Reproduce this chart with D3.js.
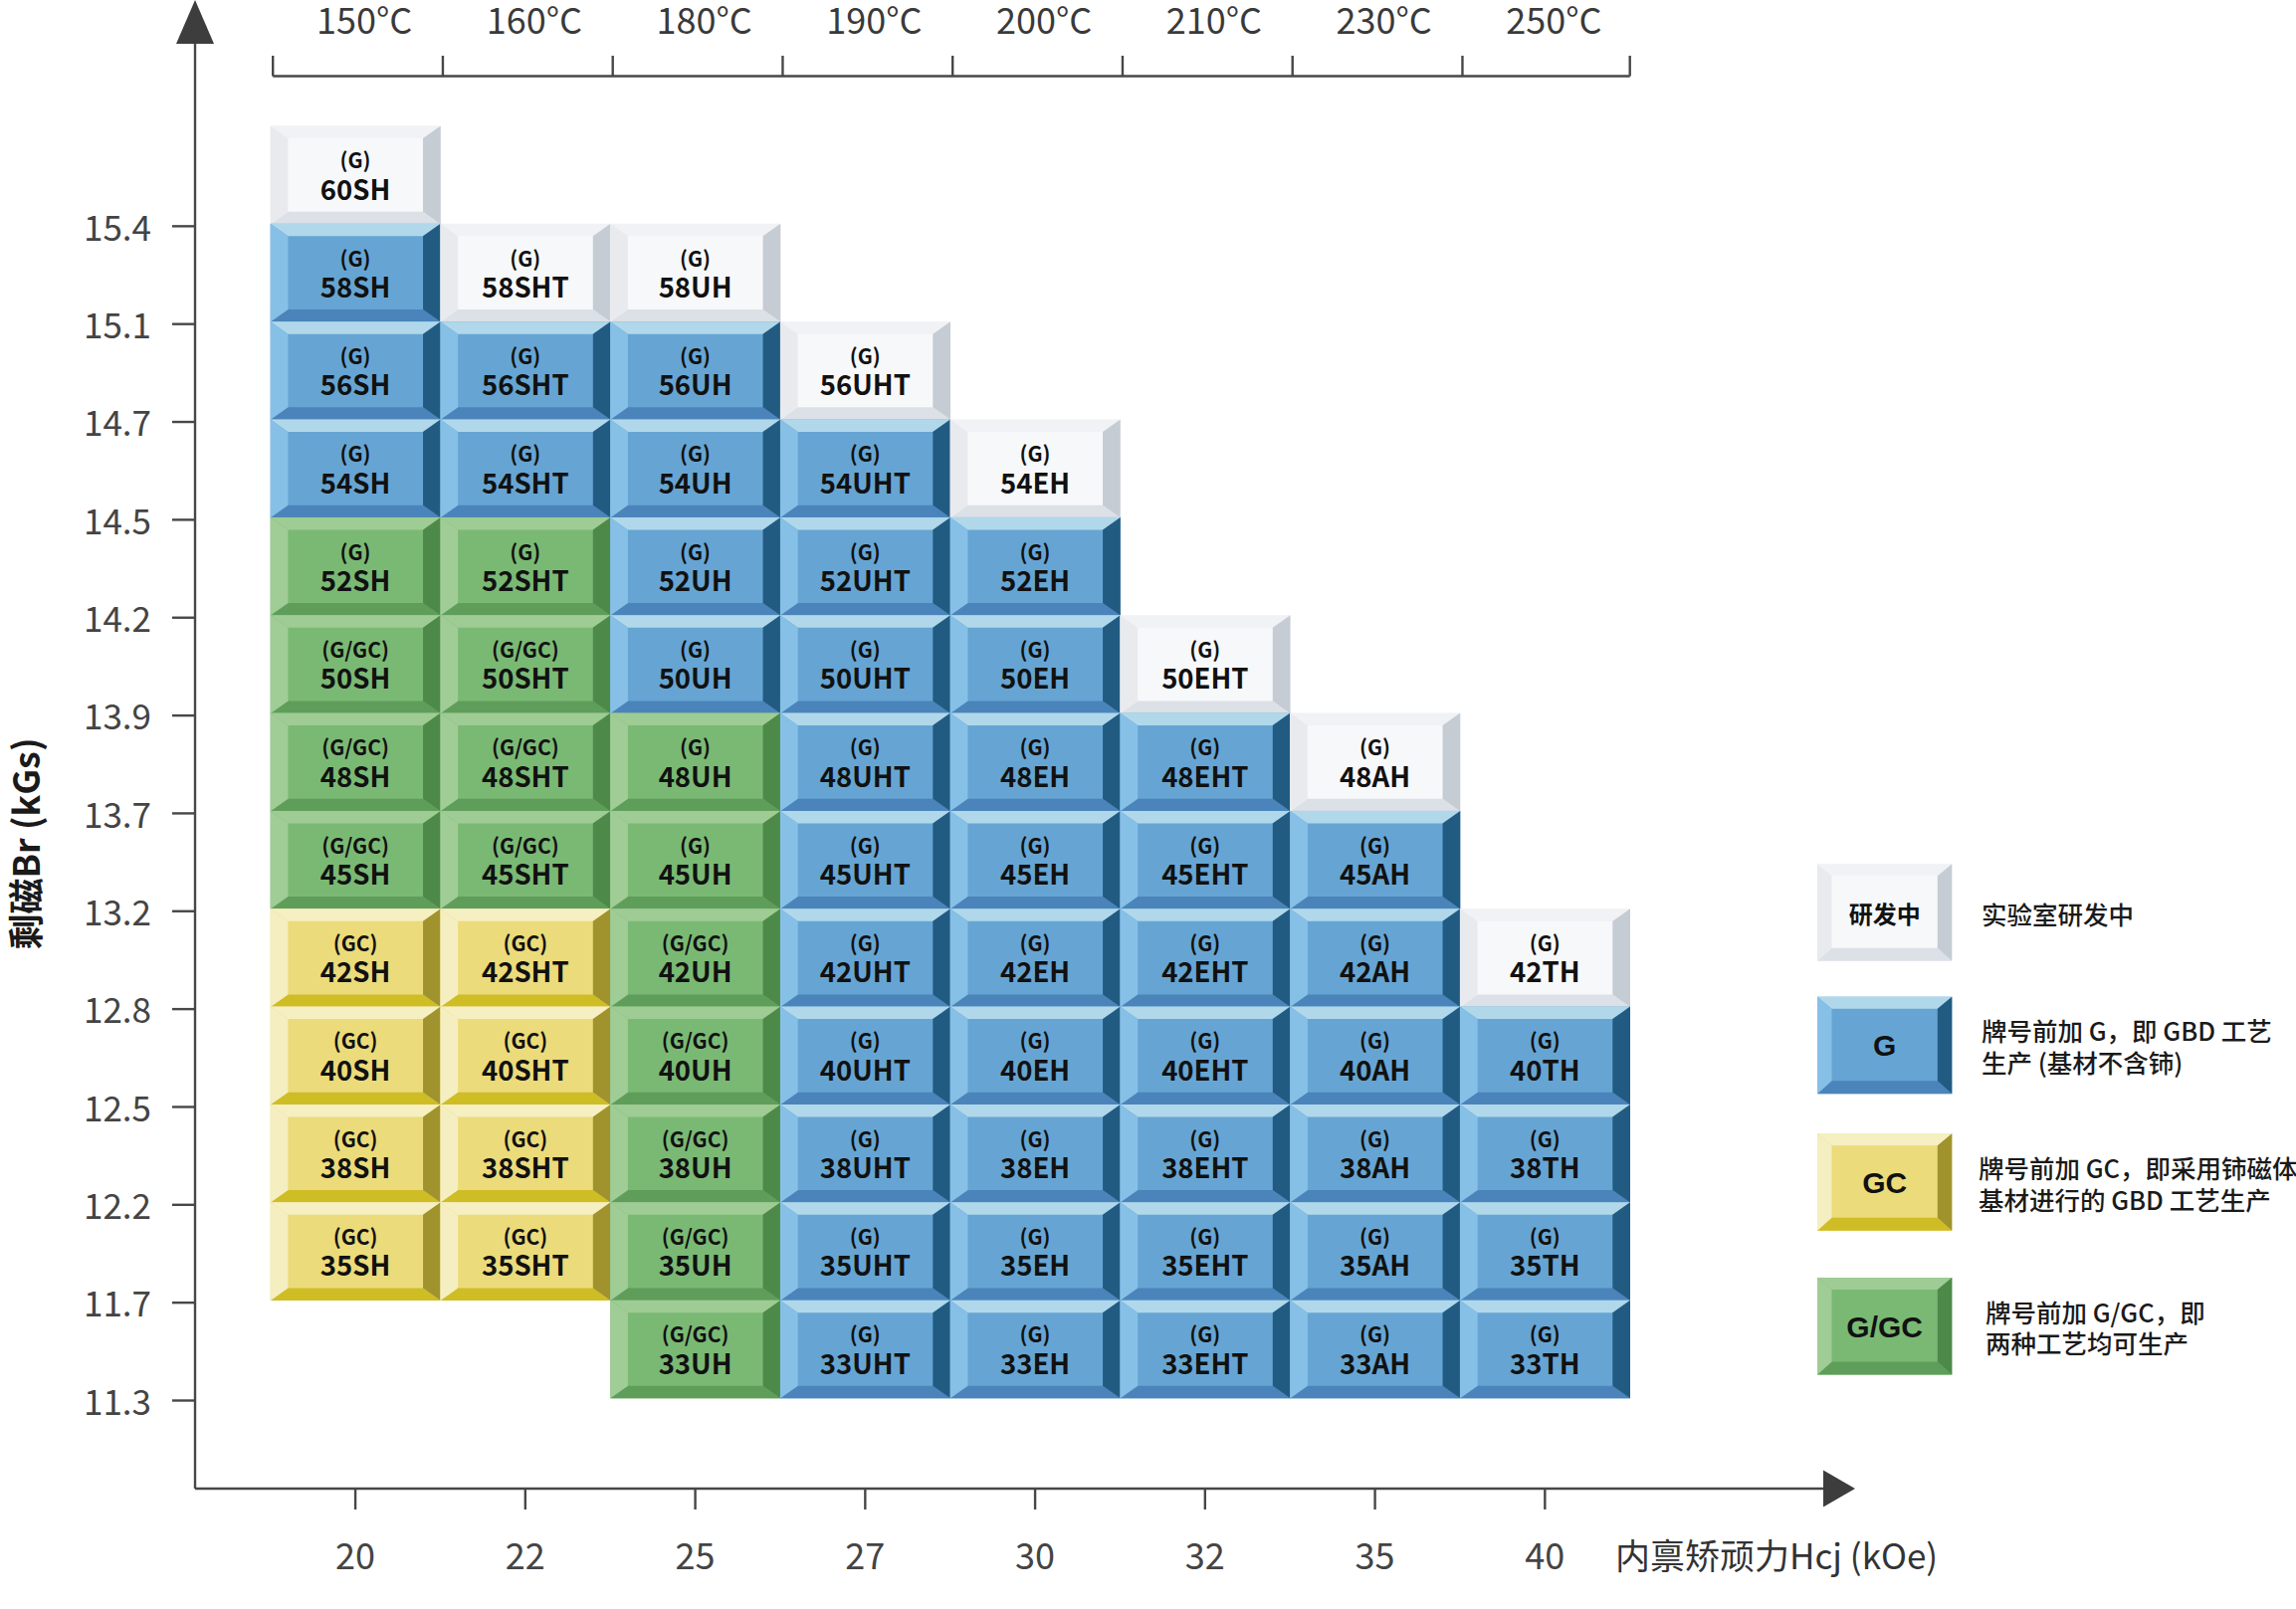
<!DOCTYPE html>
<html><head><meta charset="utf-8">
<script src="https://cdn.jsdelivr.net/npm/d3@7/dist/d3.min.js"></script>
<style>
html,body{margin:0;padding:0;background:#fff;}
svg{display:block;}
</style></head>
<body>
<svg id="chart" width="2307" height="1617"></svg>
<script>
// ---------- data ----------
const grades = ["60","58","56","54","52","50","48","45","42","40","38","35","33"];
const series = ["SH","SHT","UH","UHT","EH","EHT","AH","TH"];
const tempLabels = ["150°C","160°C","180°C","190°C","200°C","210°C","230°C","250°C"];
const hcjLabels = ["20","22","25","27","30","32","35","40"];
const brLabels = ["15.4","15.1","14.7","14.5","14.2","13.9","13.7","13.2","12.8","12.5","12.2","11.7","11.3"];
// process code per grade row: R = 研发中, G = GBD, g = GBD (green), B = G/GC, C = GC, "" = none
const procSH  = ["R","G","G","G","g","B","B","B","C","C","C","C",""];
const procSHT = ["", "R","G","G","g","B","B","B","C","C","C","C",""];
const procUH  = ["", "R","G","G","G","G","g","g","B","B","B","B","B"];
const procUHT = ["", "", "R","G","G","G","G","G","G","G","G","G","G"];
const procEH  = ["", "", "", "R","G","G","G","G","G","G","G","G","G"];
const procEHT = ["", "", "", "", "", "R","G","G","G","G","G","G","G"];
const procAH  = ["", "", "", "", "", "", "R","G","G","G","G","G","G"];
const procTH  = ["", "", "", "", "", "", "", "", "R","G","G","G","G"];
const procBySeries = [procSH,procSHT,procUH,procUHT,procEH,procEHT,procAH,procTH];
const prefixOf = {R:"(G)",G:"(G)",g:"(G)",B:"(G/GC)",C:"(GC)"};
const legendCodes = ["R","G","C","B"];
const legendBoxLabels = ["研发中","G","GC","G/GC"];
const legendTexts = [["实验室研发中"],["牌号前加 G，即 GBD 工艺","生产 (基材不含铈)"],["牌号前加 GC，即采用铈磁体","基材进行的 GBD 工艺生产"],["牌号前加 G/GC，即","两种工艺均可生产"]];

// ---------- styles ----------
const palette = {
  R:{face:"#f7f8fa",top:"#f1f2f5",left:"#e8eaee",right:"#c5ccd4",bottom:"#dce0e7"},
  G:{face:"#66a5d3",top:"#b0d8ea",left:"#87c0e7",right:"#225b82",bottom:"#4b84ba"},
  g:{face:"#7ab974",top:"#9fcb94",left:"#a0cc96",right:"#4d8a49",bottom:"#5f9e5a"},
  B:{face:"#7ab974",top:"#9fcb94",left:"#a0cc96",right:"#4d8a49",bottom:"#5f9e5a"},
  C:{face:"#ebdb7a",top:"#f5efc2",left:"#f4eec0",right:"#a0932e",bottom:"#cfbd26"}
};
const FONT = "'Noto Sans CJK SC','Noto Sans',sans-serif";
const AXIS = "#474747";

const svg = d3.select("#chart");

const x = d3.scaleBand().domain(series).range([271.7, 1637.7]).padding(0);
const y = d3.scaleBand().domain(grades).range([126.5, 1405]).padding(0);
const bw = x.bandwidth(), bh = y.bandwidth();

function bevel(g, x0, y0, w, h, c, s, t, b){
  const P = pts => pts.map(p=>p.join(",")).join(" ");
  g.append("rect").attr("x",x0).attr("y",y0).attr("width",w).attr("height",h).attr("fill",c.face);
  g.append("polygon").attr("points",P([[x0,y0],[x0+w,y0],[x0+w-s,y0+t],[x0+s,y0+t]])).attr("fill",c.top);
  g.append("polygon").attr("points",P([[x0,y0+h],[x0+w,y0+h],[x0+w-s,y0+h-b],[x0+s,y0+h-b]])).attr("fill",c.bottom);
  g.append("polygon").attr("points",P([[x0,y0],[x0+s,y0+t],[x0+s,y0+h-b],[x0,y0+h]])).attr("fill",c.left);
  g.append("polygon").attr("points",P([[x0+w,y0],[x0+w-s,y0+t],[x0+w-s,y0+h-b],[x0+w,y0+h]])).attr("fill",c.right);
}

// ---------- tiles ----------
const cells = svg.append("g");
series.forEach((s,ci)=>{
  procBySeries[ci].forEach((code,ri)=>{
    if(!code) return;
    const gx = x(s), gy = y(grades[ri]);
    const g = cells.append("g");
    bevel(g, gx, gy, bw+0.3, bh+0.3, palette[code], 17.7, 12.5, 12.5);
    // alphabetic baselines: cap centre ≈ baseline - 0.365em
    g.append("text").attr("x",gx+bw/2).attr("y",gy+35+0.365*21).attr("text-anchor","middle")
      .attr("font-family",FONT).attr("font-weight",700)
      .attr("font-size",21).attr("fill","#111").text(prefixOf[code]);
    g.append("text").attr("x",gx+bw/2).attr("y",gy+64+0.365*27.5).attr("text-anchor","middle")
      .attr("font-family",FONT).attr("font-weight",700)
      .attr("font-size",27.5).attr("fill","#111").text(grades[ri]+s);
  });
});

// ---------- Y axis ----------
const axX = 196, axBottom = 1496;
svg.append("line").attr("x1",axX).attr("x2",axX).attr("y1",40).attr("y2",axBottom)
  .attr("stroke",AXIS).attr("stroke-width",2.4);
svg.append("polygon").attr("points",`${axX},0 ${axX-19},44 ${axX+19},44`).attr("fill","#3d3d3d");
brLabels.forEach((lab,i)=>{
  const ty = y.range()[0] + (i+1)*bh + 2.5;
  svg.append("line").attr("x1",173).attr("x2",axX).attr("y1",ty).attr("y2",ty).attr("stroke",AXIS).attr("stroke-width",2.4);
  svg.append("text").attr("x",152).attr("y",ty+1.5+0.365*35).attr("text-anchor","end")
    .attr("font-family",FONT).attr("font-weight",400).attr("font-size",35).attr("fill","#444").text(lab);
});
svg.append("text").attr("transform","translate(24,848) rotate(-90)").attr("text-anchor","middle")
  .attr("dominant-baseline","central").attr("font-family",FONT).attr("font-weight",700)
  .attr("font-size",36).attr("fill","#1a1a1a").text("剩磁Br (kGs)");

// ---------- X axis ----------
svg.append("line").attr("x1",axX).attr("x2",1840).attr("y1",axBottom).attr("y2",axBottom)
  .attr("stroke",AXIS).attr("stroke-width",2.4);
svg.append("polygon").attr("points",`1864,${axBottom} 1832,${axBottom-18.5} 1832,${axBottom+18.5}`).attr("fill","#3d3d3d");
series.forEach((s,i)=>{
  const cx = x(s)+bw/2;
  svg.append("line").attr("x1",cx).attr("x2",cx).attr("y1",axBottom).attr("y2",axBottom+21).attr("stroke",AXIS).attr("stroke-width",2.4);
  svg.append("text").attr("x",cx).attr("y",1564+0.365*36).attr("text-anchor","middle")
    .attr("font-family",FONT).attr("font-weight",400).attr("font-size",36).attr("fill","#444").text(hcjLabels[i]);
});
svg.append("text").attr("x",1623).attr("y",1564+0.365*35)
  .attr("font-family",FONT).attr("font-weight",400).attr("font-size",35).attr("fill","#333").text("内禀矫顽力Hcj (kOe)");

// ---------- Top temperature bracket ----------
const topY = 76.5;
const bx = series.map(s=>x(s)+2.5).concat([x.range()[1]]);
svg.append("line").attr("x1",bx[0]).attr("x2",bx[bx.length-1]).attr("y1",topY).attr("y2",topY)
  .attr("stroke",AXIS).attr("stroke-width",2.6);
bx.forEach(v=>{
  svg.append("line").attr("x1",v).attr("x2",v).attr("y1",56).attr("y2",topY).attr("stroke",AXIS).attr("stroke-width",2.4);
});
series.forEach((s,i)=>{
  svg.append("text").attr("x",x(s)+bw/2+9).attr("y",33.5).attr("text-anchor","middle")
    .attr("font-family",FONT).attr("font-weight",400).attr("font-size",36).attr("fill","#3a3a3a").text(tempLabels[i]);
});

// ---------- Legend ----------
const legY = [868.3, 1001.7, 1139.3, 1284];
const legTextX = [1991, 1991, 1988, 1995];
const legend = svg.append("g");
legendCodes.forEach((code,i)=>{
  const g = legend.append("g");
  bevel(g, 1826, legY[i], 135.3, 97.5, palette[code], 14.5, 12, 13);
  const isCJK = i===0;
  g.append("text").attr("x",1826+135.3/2).attr("y",legY[i]+49).attr("text-anchor","middle")
    .attr("dominant-baseline","central")
    .attr("font-family", isCJK ? FONT : "'Liberation Sans',Arial,sans-serif")
    .attr("font-weight",700).attr("font-size", isCJK ? 24 : 30).attr("fill","#111").text(legendBoxLabels[i]);
  const lines = legendTexts[i];
  const mid = legY[i]+49;
  lines.forEach((ln,j)=>{
    const ly = lines.length===1 ? mid : mid - 15.8 + j*31.6;
    g.append("text").attr("x",legTextX[i]).attr("y",ly).attr("dominant-baseline","central")
      .attr("font-family",FONT).attr("font-weight",500).attr("font-size",25.5).attr("fill","#1a1a1a").text(ln);
  });
});
</script>
</body></html>
